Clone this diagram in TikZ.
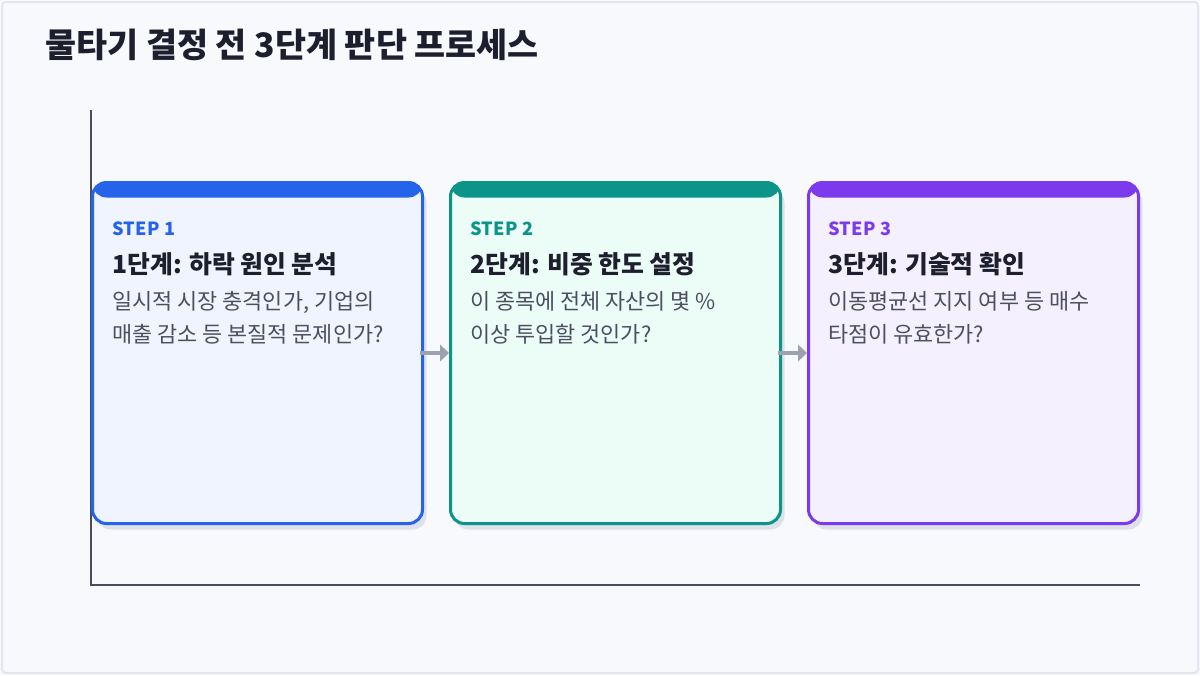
\documentclass[tikz,border=0pt]{standalone}
\usepackage{fontspec}
\setmainfont{Noto Sans CJK KR}
\usetikzlibrary{arrows.meta,shadows}
\definecolor{bg}{HTML}{F8F9FD}
\definecolor{frame}{HTML}{E3E6EE}
\definecolor{axis}{HTML}{4A4B5C}
\definecolor{ttl}{HTML}{1E1F2E}
\definecolor{desc}{HTML}{4B4F60}
\definecolor{arrowc}{HTML}{9CA3AF}
\definecolor{shadowc}{HTML}{DEE1EA}
\definecolor{cA}{HTML}{2563EB}\definecolor{fA}{HTML}{EFF4FE}
\definecolor{cB}{HTML}{0D9488}\definecolor{fB}{HTML}{ECFDF8}
\definecolor{cC}{HTML}{7C3AED}\definecolor{fC}{HTML}{F5F0FE}
\tikzset{
  card/.style n args={2}{draw=#1, fill=#2, line width=2.25pt, rounded corners=10.5pt,
    minimum width=247.5pt, minimum height=255.75pt, inner sep=0pt,
    drop shadow={shadow xshift=3pt, shadow yshift=-4.5pt, fill=shadowc, opacity=1},
    path picture={\fill[#1] (path picture bounding box.north west) rectangle ([yshift=-11.25pt]path picture bounding box.north east);}},
  steplabel/.style={anchor=west, inner sep=0pt, font=\bfseries\fontsize{13.6}{16}\selectfont\addfontfeatures{LetterSpace=2}},
  cardtitle/.style={anchor=west, inner sep=0pt, text=ttl, font=\bfseries\fontsize{18.6}{22}\selectfont},
  carddesc/.style={anchor=north west, inner sep=0pt, text=desc, align=left, font=\fontsize{16.4}{24.75}\selectfont},
  flow/.style={draw=arrowc, line width=3pt, -{Triangle[length=6.75pt,width=12.5pt]}},
  axisline/.style={draw=axis, line width=1.5pt}
}
\begin{document}
\begin{tikzpicture}[x=0.75pt,y=-0.75pt]
\useasboundingbox (0,0) rectangle (1200,675);
\fill[bg] (0,0) rectangle (1200,675);
\draw[frame, line width=1.5pt, rounded corners=3pt] (2,2) rectangle (1198,673);
\node[anchor=west, inner sep=0pt, text=ttl, font=\bfseries\fontsize{25.3}{30}\selectfont] (title) at (45,45) {물타기 결정 전 3단계 판단 프로세스};
\coordinate (axtop) at (91,110);
\coordinate (origin) at (91,585);
\coordinate (axright) at (1140,585);
\draw[axisline] (axtop) -- (origin) -- (axright);
\node[card={cA}{fA}] (c1) at (257.5,353) {};
\node[card={cB}{fB}] (c2) at (615.5,353) {};
\node[card={cC}{fC}] (c3) at (973.5,353) {};
\draw[flow] ([xshift=-3pt]c1.east) -- (c2.west);
\draw[flow] ([xshift=-3pt]c2.east) -- (c3.west);
\node[steplabel, text=cA] (s1) at (112,229) {STEP 1};
\node[cardtitle] (t1) at (112,264) {1단계: 하락 원인 분석};
\node[carddesc] (d1) at (112,291) {일시적 시장 충격인가, 기업의\\매출 감소 등 본질적 문제인가?};
\node[steplabel, text=cB] (s2) at (470,229) {STEP 2};
\node[cardtitle] (t2) at (470,264) {2단계: 비중 한도 설정};
\node[carddesc] (d2) at (470,291) {이 종목에 전체 자산의 몇 \%\\이상 투입할 것인가?};
\node[steplabel, text=cC] (s3) at (828,229) {STEP 3};
\node[cardtitle] (t3) at (828,264) {3단계: 기술적 확인};
\node[carddesc] (d3) at (828,291) {이동평균선 지지 여부 등 매수\\타점이 유효한가?};
\end{tikzpicture}
\end{document}
